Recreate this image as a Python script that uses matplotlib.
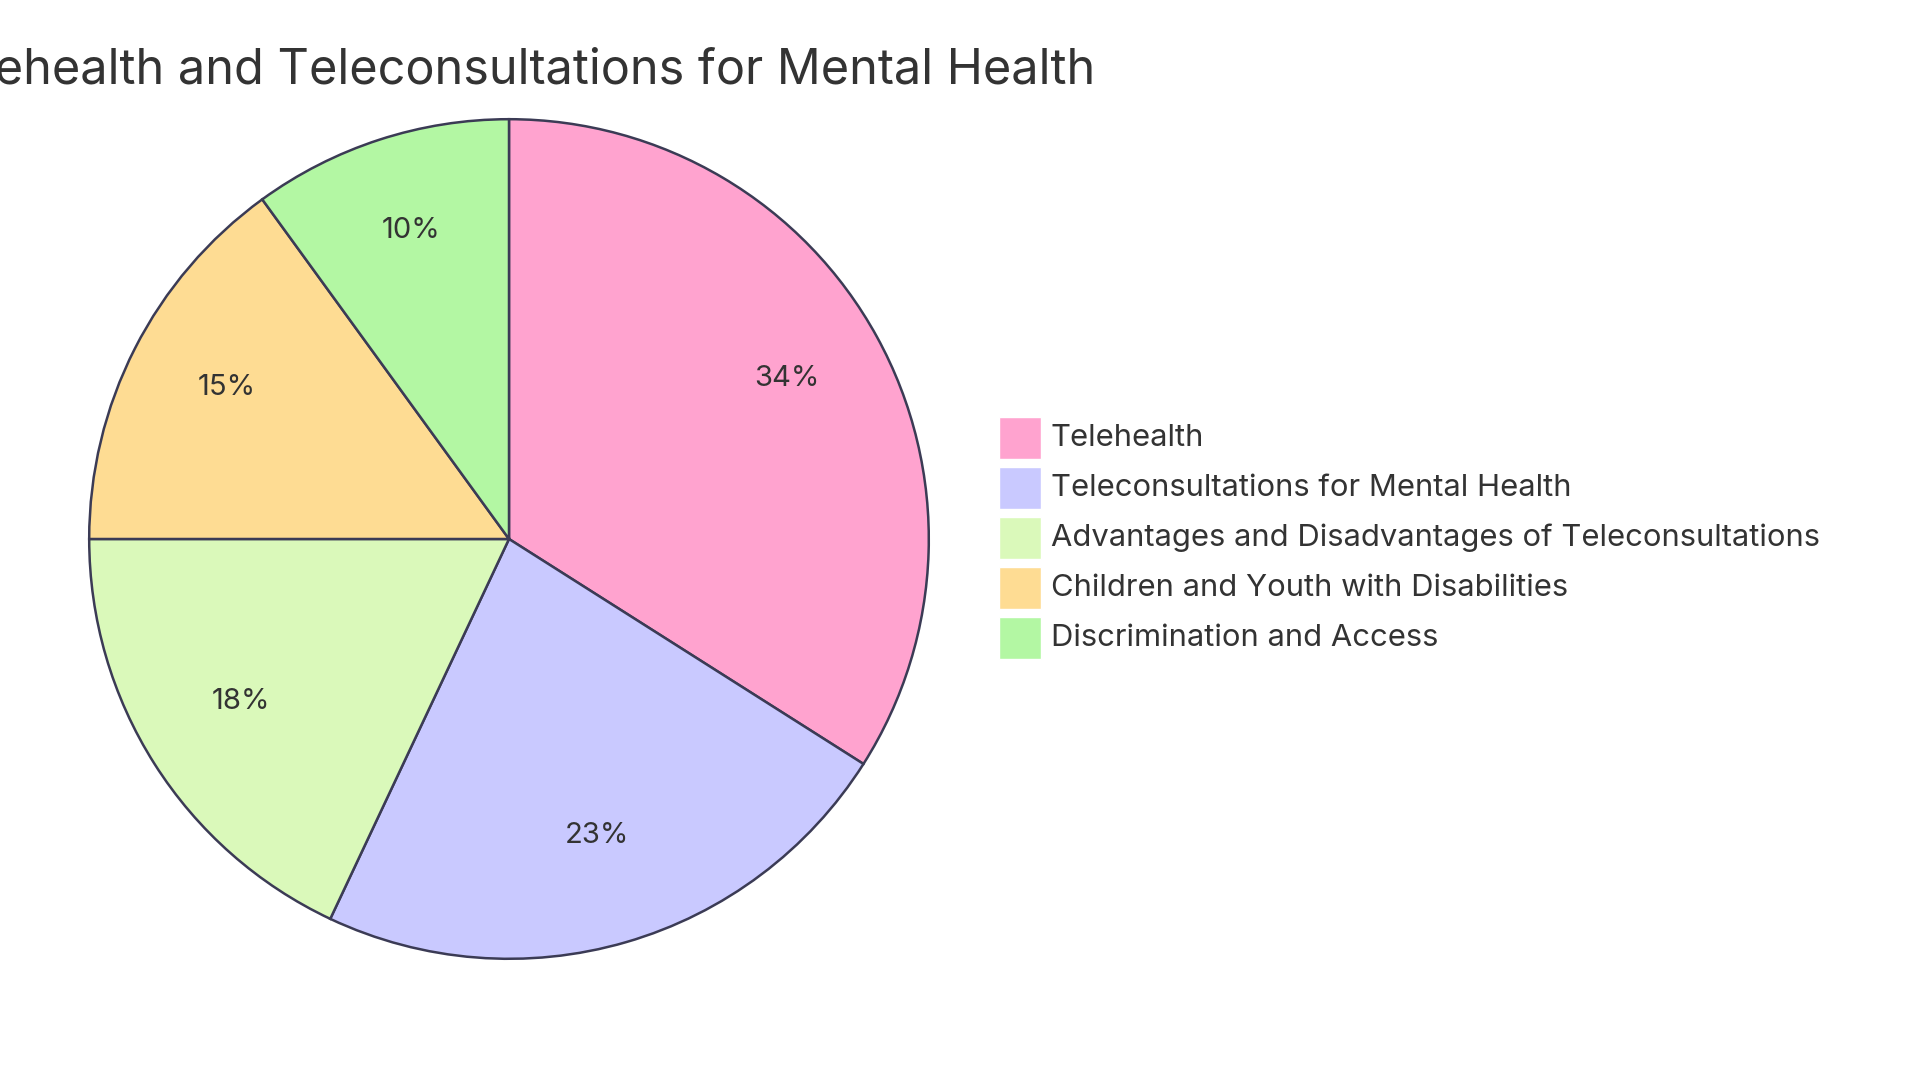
import matplotlib
matplotlib.use("Agg")
import matplotlib.pyplot as plt
from matplotlib.patches import Rectangle

plt.rcParams["font.family"] = ["Inter", "DejaVu Sans"]

title = "Telehealth and Teleconsultations for Mental Health"
categories = [
    "Telehealth",
    "Teleconsultations for Mental Health",
    "Advantages and Disadvantages of Teleconsultations",
    "Children and Youth with Disabilities",
    "Discrimination and Access",
]
values = [34, 23, 18, 15, 10]
colors = ["#FFA3CF", "#C9C9FF", "#DAF9BA", "#FEDC93", "#B3F7A3"]

W, H = 1920, 1080
fig = plt.figure(figsize=(W / 100, H / 100), dpi=100)

# pie centre and radius in pixels
cx, cy, r = 509, 539, 424
ax = fig.add_axes([(cx - r) / W, (H - cy - r) / H, 2 * r / W, 2 * r / H])
wedges, texts, autotexts = ax.pie(
    values, colors=colors, startangle=90, counterclock=False,
    autopct="%1.0f%%", pctdistance=0.755, radius=1,
    wedgeprops=dict(edgecolor="#3b3b55", linewidth=1.8),
    textprops=dict(fontsize=21, color="#333333"),
)
for t in autotexts:
    t.set_va("baseline")
ax.set_xlim(-1.01, 1.01)
ax.set_ylim(-1.01, 1.01)
ax.set_aspect("equal")
ax.axis("off")

fig.text(cx / W, 1 - 71 / H, title, ha="center", va="center",
         fontsize=35, color="#333333")

# legend
box = 42
x0, y0, step = 999, 417, 50
for i, (lab, col) in enumerate(zip(categories, colors)):
    top = y0 + i * step
    fig.patches.append(Rectangle((x0 / W, 1 - (top + box) / H), box / W, box / H,
                                 transform=fig.transFigure, facecolor=col,
                                 edgecolor="white", linewidth=1))
    fig.text((x0 + box + 10) / W, 1 - (top + box / 2) / H, lab,
             ha="left", va="center", fontsize=22.3, color="#333333")

fig.savefig("out.png", dpi=100)
